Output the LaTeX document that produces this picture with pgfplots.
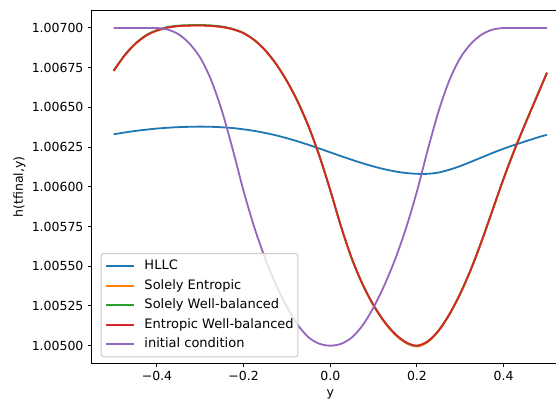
\documentclass[border=0pt]{standalone}
\usepackage{fontspec}
\setmainfont{DejaVu Sans}
\usepackage{pgfplots}
\pgfplotsset{compat=1.18}
\usepackage{pgfplotstable}
\definecolor{c0}{HTML}{1F77B4}
\definecolor{c1}{HTML}{FF7F0E}
\definecolor{c2}{HTML}{2CA02C}
\definecolor{c3}{HTML}{D62728}
\definecolor{c4}{HTML}{9467BD}
\definecolor{legedge}{HTML}{CCCCCC}

\pgfplotstableread{
x      hllc     ent      wb       ewb      init
-0.500 1.006331 1.006730 1.006731 1.006730 1.007000
-0.475 1.006342 1.006826 1.006828 1.006826 1.007000
-0.450 1.006352 1.006900 1.006902 1.006900 1.007000
-0.425 1.006360 1.006952 1.006955 1.006952 1.007000
-0.400 1.006367 1.006984 1.006987 1.006984 1.007000
-0.375 1.006372 1.007003 1.007006 1.007003 1.006990
-0.350 1.006376 1.007012 1.007015 1.007012 1.006960
-0.325 1.006378 1.007015 1.007018 1.007015 1.006902
-0.300 1.006379 1.007016 1.007019 1.007016 1.006812
-0.275 1.006378 1.007013 1.007016 1.007013 1.006672
-0.250 1.006375 1.007006 1.007009 1.007006 1.006477
-0.225 1.006370 1.006992 1.006994 1.006992 1.006234
-0.200 1.006362 1.006967 1.006968 1.006967 1.005972
-0.175 1.006352 1.006923 1.006924 1.006923 1.005742
-0.150 1.006339 1.006859 1.006859 1.006859 1.005547
-0.125 1.006324 1.006773 1.006773 1.006773 1.005382
-0.100 1.006306 1.006665 1.006665 1.006665 1.005242
-0.075 1.006286 1.006535 1.006535 1.006535 1.005130
-0.050 1.006264 1.006379 1.006379 1.006379 1.005052
-0.025 1.006241 1.006193 1.006193 1.006193 1.005012
 0.000 1.006217 1.005978 1.005978 1.005978 1.005000
 0.025 1.006193 1.005748 1.005748 1.005748 1.005012
 0.050 1.006170 1.005545 1.005546 1.005546 1.005052
 0.075 1.006148 1.005382 1.005384 1.005384 1.005130
 0.100 1.006128 1.005251 1.005254 1.005254 1.005242
 0.125 1.006111 1.005147 1.005151 1.005151 1.005382
 0.150 1.006097 1.005068 1.005072 1.005073 1.005547
 0.175 1.006087 1.005016 1.005020 1.005021 1.005742
 0.200 1.006082 1.004995 1.004999 1.005000 1.005972
 0.225 1.006082 1.005023 1.005027 1.005028 1.006234
 0.250 1.006090 1.005092 1.005095 1.005096 1.006477
 0.275 1.006108 1.005196 1.005198 1.005199 1.006672
 0.300 1.006131 1.005327 1.005328 1.005329 1.006812
 0.325 1.006158 1.005483 1.005484 1.005484 1.006902
 0.350 1.006186 1.005664 1.005664 1.005664 1.006960
 0.375 1.006214 1.005858 1.005858 1.005858 1.006990
 0.400 1.006240 1.006052 1.006052 1.006052 1.007000
 0.425 1.006264 1.006232 1.006232 1.006232 1.007000
 0.450 1.006286 1.006398 1.006398 1.006398 1.007000
 0.475 1.006308 1.006558 1.006558 1.006558 1.007000
 0.500 1.006328 1.006718 1.006719 1.006718 1.007000
}\datatable

\begin{document}
\begin{tikzpicture}
\begin{axis}[
  name=ax,
  scale only axis,
  width=381.3pt, height=281.6pt,
  xmin=-0.55, xmax=0.55,
  ymin=1.004891, ymax=1.007107,
  xtick={-0.4,-0.2,0,0.2,0.4},
  xticklabels={−0.4,−0.2,0.0,0.2,0.4},
  ytick={1.005,1.00525,1.0055,1.00575,1.006,1.00625,1.0065,1.00675,1.007},
  yticklabels={1.00500,1.00525,1.00550,1.00575,1.00600,1.00625,1.00650,1.00675,1.00700},
  tick pos=left,
  tick align=outside,
  major tick length=3.3pt,
  every tick/.style={black, line width=0.8pt},
  axis line style={line width=0.8pt},
  xlabel={y},
  ylabel={h(tfinal,y)},
  ylabel style={at={(axis description cs:-0.1521,0.5)}, anchor=center},
  every axis plot/.append style={line width=1.45pt, smooth, tension=0.5},
  legend cell align=left,
  legend image code/.code={%
    \draw[#1, line width=1.6pt, sharp plot] (0pt,0pt) -- (22.4pt,0pt);
    \path[draw=none, fill=none] (30.4pt,0pt) circle[radius=0pt];},
  legend style={
    at={(0,0)}, anchor=south west, xshift=7pt, yshift=4.6pt,
    draw=legedge, line width=0.8pt, rounded corners=2pt,
    fill=white, fill opacity=0.8, text opacity=1, draw opacity=1,
    inner xsep=3.4pt, inner ysep=5.3pt, row sep=5.5pt, column sep=0pt,
    font=\fontsize{10.4}{12}\selectfont,
    nodes={inner xsep=0pt, inner ysep=0pt, text height=7.8pt, text depth=2.2pt},
  },
]
\addplot[c0] table[x=x, y=hllc] {\datatable};
\addlegendentry{HLLC}
\addplot[c1] table[x=x, y=ent] {\datatable};
\addlegendentry{Solely Entropic}
\addplot[c2] table[x=x, y=wb] {\datatable};
\addlegendentry{Solely Well-balanced}
\addplot[c3] table[x=x, y=ewb] {\datatable};
\addlegendentry{Entropic Well-balanced}
\addplot[c4] table[x=x, y=init] {\datatable};
\addlegendentry{initial condition}
\end{axis}
\pgfresetboundingbox
\useasboundingbox ([xshift=-73.6pt,yshift=-31.2pt]ax.south west) rectangle ([xshift=371.2pt,yshift=8.8pt]ax.north west);
\end{tikzpicture}
\end{document}
